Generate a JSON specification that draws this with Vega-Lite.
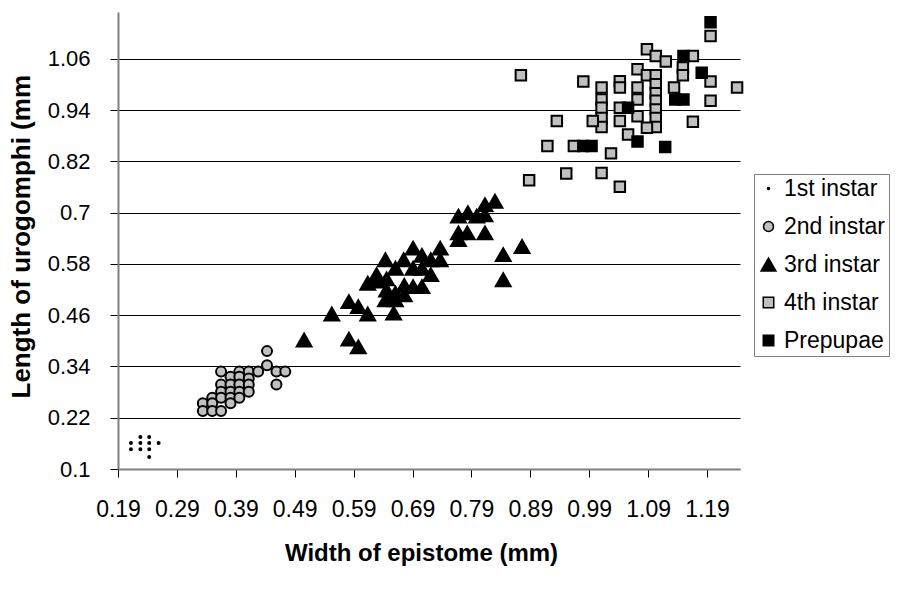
{
  "$schema": "https://vega.github.io/schema/vega-lite/v6.json",
  "width": 622,
  "height": 457,
  "autosize": {"type": "none"},
  "padding": {"left": 118, "top": 12, "right": 163, "bottom": 127},
  "background": "white",
  "config": {"view": {"stroke": null}, "font": "Liberation Sans"},
  "data": {"values": [
    {"s": "1st instar", "w": 0.212, "l": 0.161},
    {"s": "1st instar", "w": 0.212, "l": 0.146},
    {"s": "1st instar", "w": 0.228, "l": 0.175},
    {"s": "1st instar", "w": 0.228, "l": 0.161},
    {"s": "1st instar", "w": 0.228, "l": 0.146},
    {"s": "1st instar", "w": 0.243, "l": 0.175},
    {"s": "1st instar", "w": 0.243, "l": 0.161},
    {"s": "1st instar", "w": 0.243, "l": 0.146},
    {"s": "1st instar", "w": 0.243, "l": 0.128},
    {"s": "1st instar", "w": 0.259, "l": 0.161},
    {"s": "2nd instar", "w": 0.443, "l": 0.376},
    {"s": "2nd instar", "w": 0.443, "l": 0.343},
    {"s": "2nd instar", "w": 0.365, "l": 0.328},
    {"s": "2nd instar", "w": 0.396, "l": 0.328},
    {"s": "2nd instar", "w": 0.412, "l": 0.328},
    {"s": "2nd instar", "w": 0.428, "l": 0.328},
    {"s": "2nd instar", "w": 0.459, "l": 0.328},
    {"s": "2nd instar", "w": 0.474, "l": 0.328},
    {"s": "2nd instar", "w": 0.381, "l": 0.316},
    {"s": "2nd instar", "w": 0.396, "l": 0.316},
    {"s": "2nd instar", "w": 0.412, "l": 0.312},
    {"s": "2nd instar", "w": 0.365, "l": 0.298},
    {"s": "2nd instar", "w": 0.381, "l": 0.298},
    {"s": "2nd instar", "w": 0.396, "l": 0.298},
    {"s": "2nd instar", "w": 0.412, "l": 0.298},
    {"s": "2nd instar", "w": 0.459, "l": 0.298},
    {"s": "2nd instar", "w": 0.365, "l": 0.281},
    {"s": "2nd instar", "w": 0.381, "l": 0.281},
    {"s": "2nd instar", "w": 0.396, "l": 0.281},
    {"s": "2nd instar", "w": 0.412, "l": 0.281},
    {"s": "2nd instar", "w": 0.350, "l": 0.267},
    {"s": "2nd instar", "w": 0.365, "l": 0.267},
    {"s": "2nd instar", "w": 0.381, "l": 0.267},
    {"s": "2nd instar", "w": 0.396, "l": 0.267},
    {"s": "2nd instar", "w": 0.334, "l": 0.254},
    {"s": "2nd instar", "w": 0.350, "l": 0.254},
    {"s": "2nd instar", "w": 0.381, "l": 0.254},
    {"s": "2nd instar", "w": 0.334, "l": 0.236},
    {"s": "2nd instar", "w": 0.350, "l": 0.236},
    {"s": "2nd instar", "w": 0.365, "l": 0.236},
    {"s": "3rd instar", "w": 0.506, "l": 0.402},
    {"s": "3rd instar", "w": 0.553, "l": 0.463},
    {"s": "3rd instar", "w": 0.582, "l": 0.492},
    {"s": "3rd instar", "w": 0.598, "l": 0.480},
    {"s": "3rd instar", "w": 0.582, "l": 0.404},
    {"s": "3rd instar", "w": 0.598, "l": 0.386},
    {"s": "3rd instar", "w": 0.614, "l": 0.463},
    {"s": "3rd instar", "w": 0.614, "l": 0.535},
    {"s": "3rd instar", "w": 0.629, "l": 0.555},
    {"s": "3rd instar", "w": 0.644, "l": 0.590},
    {"s": "3rd instar", "w": 0.661, "l": 0.570},
    {"s": "3rd instar", "w": 0.646, "l": 0.519},
    {"s": "3rd instar", "w": 0.661, "l": 0.512},
    {"s": "3rd instar", "w": 0.676, "l": 0.508},
    {"s": "3rd instar", "w": 0.644, "l": 0.496},
    {"s": "3rd instar", "w": 0.658, "l": 0.465},
    {"s": "3rd instar", "w": 0.675, "l": 0.590},
    {"s": "3rd instar", "w": 0.691, "l": 0.617},
    {"s": "3rd instar", "w": 0.691, "l": 0.570},
    {"s": "3rd instar", "w": 0.706, "l": 0.570},
    {"s": "3rd instar", "w": 0.706, "l": 0.527},
    {"s": "3rd instar", "w": 0.691, "l": 0.527},
    {"s": "3rd instar", "w": 0.721, "l": 0.590},
    {"s": "3rd instar", "w": 0.721, "l": 0.555},
    {"s": "3rd instar", "w": 0.737, "l": 0.617},
    {"s": "3rd instar", "w": 0.737, "l": 0.590},
    {"s": "3rd instar", "w": 0.646, "l": 0.545},
    {"s": "3rd instar", "w": 0.676, "l": 0.530},
    {"s": "3rd instar", "w": 0.661, "l": 0.496},
    {"s": "3rd instar", "w": 0.630, "l": 0.540},
    {"s": "3rd instar", "w": 0.706, "l": 0.600},
    {"s": "3rd instar", "w": 0.768, "l": 0.692},
    {"s": "3rd instar", "w": 0.768, "l": 0.653},
    {"s": "3rd instar", "w": 0.768, "l": 0.637},
    {"s": "3rd instar", "w": 0.783, "l": 0.653},
    {"s": "3rd instar", "w": 0.799, "l": 0.692},
    {"s": "3rd instar", "w": 0.784, "l": 0.700},
    {"s": "3rd instar", "w": 0.813, "l": 0.719},
    {"s": "3rd instar", "w": 0.813, "l": 0.695},
    {"s": "3rd instar", "w": 0.830, "l": 0.727},
    {"s": "3rd instar", "w": 0.813, "l": 0.653},
    {"s": "3rd instar", "w": 0.844, "l": 0.602},
    {"s": "3rd instar", "w": 0.844, "l": 0.543},
    {"s": "3rd instar", "w": 0.876, "l": 0.621},
    {"s": "4th instar", "w": 0.874, "l": 1.022},
    {"s": "4th instar", "w": 0.980, "l": 1.007},
    {"s": "4th instar", "w": 1.011, "l": 0.993},
    {"s": "4th instar", "w": 1.011, "l": 0.965},
    {"s": "4th instar", "w": 1.011, "l": 0.946},
    {"s": "4th instar", "w": 1.011, "l": 0.922},
    {"s": "4th instar", "w": 1.011, "l": 0.901},
    {"s": "4th instar", "w": 1.042, "l": 1.008},
    {"s": "4th instar", "w": 1.042, "l": 0.993},
    {"s": "4th instar", "w": 1.042, "l": 0.946},
    {"s": "4th instar", "w": 1.042, "l": 0.915},
    {"s": "4th instar", "w": 1.072, "l": 1.036},
    {"s": "4th instar", "w": 1.072, "l": 0.993},
    {"s": "4th instar", "w": 1.072, "l": 0.965},
    {"s": "4th instar", "w": 1.072, "l": 0.926},
    {"s": "4th instar", "w": 1.088, "l": 1.083},
    {"s": "4th instar", "w": 1.103, "l": 1.067},
    {"s": "4th instar", "w": 1.120, "l": 1.054},
    {"s": "4th instar", "w": 1.088, "l": 1.022},
    {"s": "4th instar", "w": 1.103, "l": 1.022},
    {"s": "4th instar", "w": 1.103, "l": 1.001},
    {"s": "4th instar", "w": 1.103, "l": 0.980},
    {"s": "4th instar", "w": 1.103, "l": 0.962},
    {"s": "4th instar", "w": 1.103, "l": 0.942},
    {"s": "4th instar", "w": 1.103, "l": 0.922},
    {"s": "4th instar", "w": 1.103, "l": 0.901},
    {"s": "4th instar", "w": 1.088, "l": 0.899},
    {"s": "4th instar", "w": 1.056, "l": 0.883},
    {"s": "4th instar", "w": 1.134, "l": 0.993},
    {"s": "4th instar", "w": 1.149, "l": 1.040},
    {"s": "4th instar", "w": 1.149, "l": 1.022},
    {"s": "4th instar", "w": 1.166, "l": 1.067},
    {"s": "4th instar", "w": 1.196, "l": 1.007},
    {"s": "4th instar", "w": 1.196, "l": 0.962},
    {"s": "4th instar", "w": 1.166, "l": 0.913},
    {"s": "4th instar", "w": 1.241, "l": 0.993},
    {"s": "4th instar", "w": 1.196, "l": 1.114},
    {"s": "4th instar", "w": 0.935, "l": 0.915},
    {"s": "4th instar", "w": 0.996, "l": 0.915},
    {"s": "4th instar", "w": 0.919, "l": 0.856},
    {"s": "4th instar", "w": 0.964, "l": 0.856},
    {"s": "4th instar", "w": 1.027, "l": 0.839},
    {"s": "4th instar", "w": 0.888, "l": 0.776},
    {"s": "4th instar", "w": 0.951, "l": 0.792},
    {"s": "4th instar", "w": 1.011, "l": 0.793},
    {"s": "4th instar", "w": 1.042, "l": 0.761},
    {"s": "Prepupae", "w": 1.196, "l": 1.146},
    {"s": "Prepupae", "w": 1.150, "l": 1.067},
    {"s": "Prepupae", "w": 1.181, "l": 1.028},
    {"s": "Prepupae", "w": 1.136, "l": 0.965},
    {"s": "Prepupae", "w": 1.150, "l": 0.965},
    {"s": "Prepupae", "w": 1.056, "l": 0.946},
    {"s": "Prepupae", "w": 1.072, "l": 0.867},
    {"s": "Prepupae", "w": 1.119, "l": 0.854},
    {"s": "Prepupae", "w": 0.980, "l": 0.856},
    {"s": "Prepupae", "w": 0.994, "l": 0.856}
  ]},
  "mark": {"type": "point", "filled": true, "stroke": "black", "strokeWidth": 2, "opacity": 1},
  "encoding": {
    "x": {
      "field": "w", "type": "quantitative",
      "scale": {"domain": [0.19, 1.246], "nice": false, "zero": false},
      "axis": {
        "values": [0.19, 0.29, 0.39, 0.49, 0.59, 0.69, 0.79, 0.89, 0.99, 1.09, 1.19],
        "format": ".2f", "grid": false, "labelOverlap": false, "labelFlush": false,
        "domainColor": "#808080", "domainWidth": 2,
        "tickColor": "#000000", "tickSize": 8, "tickWidth": 1,
        "labelFontSize": 23, "labelPadding": 21, "labelColor": "#000000",
        "title": "Width of epistome (mm)", "titleFontSize": 24, "titleFontWeight": "bold", "titleColor": "#000000",
        "titleY": 84, "titleBaseline": "middle", "titleX": 303
      }
    },
    "y": {
      "field": "l", "type": "quantitative",
      "scale": {"domain": [0.1, 1.17], "nice": false, "zero": false},
      "axis": {
        "values": [0.1, 0.22, 0.34, 0.46, 0.58, 0.7, 0.82, 0.94, 1.06],
        "labelExpr": "replace(format(datum.value, '.2f'), /0$/, '')",
        "grid": true, "gridColor": "#000000", "gridWidth": 1, "labelOverlap": false, "labelFlush": false,
        "domainColor": "#808080", "domainWidth": 2,
        "tickColor": "#000000", "tickSize": 8, "tickWidth": 1,
        "labelFontSize": 22, "labelPadding": 20, "labelColor": "#000000",
        "title": "Length of urogomphi (mm", "titleFontSize": 26, "titleFontWeight": "bold", "titleColor": "#000000",
        "titleAngle": -90, "titleAlign": "left", "titleBaseline": "middle",
        "titleX": -97, "titleY": 386
      }
    },
    "shape": {
      "field": "s", "type": "nominal",
      "scale": {"domain": ["1st instar", "2nd instar", "3rd instar", "4th instar", "Prepupae"], "range": ["circle", "circle", "triangle-up", "square", "square"]},
      "legend": {
        "title": null, "orient": "none", "legendX": 636, "legendY": 162,
        "strokeColor": "#808080", "padding": 3, "rowPadding": 14,
        "labelFontSize": 23, "labelColor": "#000000", "labelOffset": 4
      }
    },
    "color": {
      "field": "s", "type": "nominal",
      "scale": {"domain": ["1st instar", "2nd instar", "3rd instar", "4th instar", "Prepupae"], "range": ["#000000", "#c0c0c0", "#000000", "#c0c0c0", "#000000"]},
      "legend": {
        "title": null, "orient": "none", "legendX": 636, "legendY": 162,
        "strokeColor": "#808080", "padding": 3, "rowPadding": 14,
        "labelFontSize": 23, "labelColor": "#000000", "labelOffset": 4
      }
    },
    "size": {
      "field": "s", "type": "nominal",
      "scale": {"type": "ordinal", "domain": ["1st instar", "2nd instar", "3rd instar", "4th instar", "Prepupae"], "range": [4, 100, 220, 110, 110]},
      "legend": {
        "title": null, "orient": "none", "legendX": 636, "legendY": 162,
        "strokeColor": "#808080", "padding": 3, "rowPadding": 14,
        "labelFontSize": 23, "labelColor": "#000000", "labelOffset": 4
      }
    }
  }
}
